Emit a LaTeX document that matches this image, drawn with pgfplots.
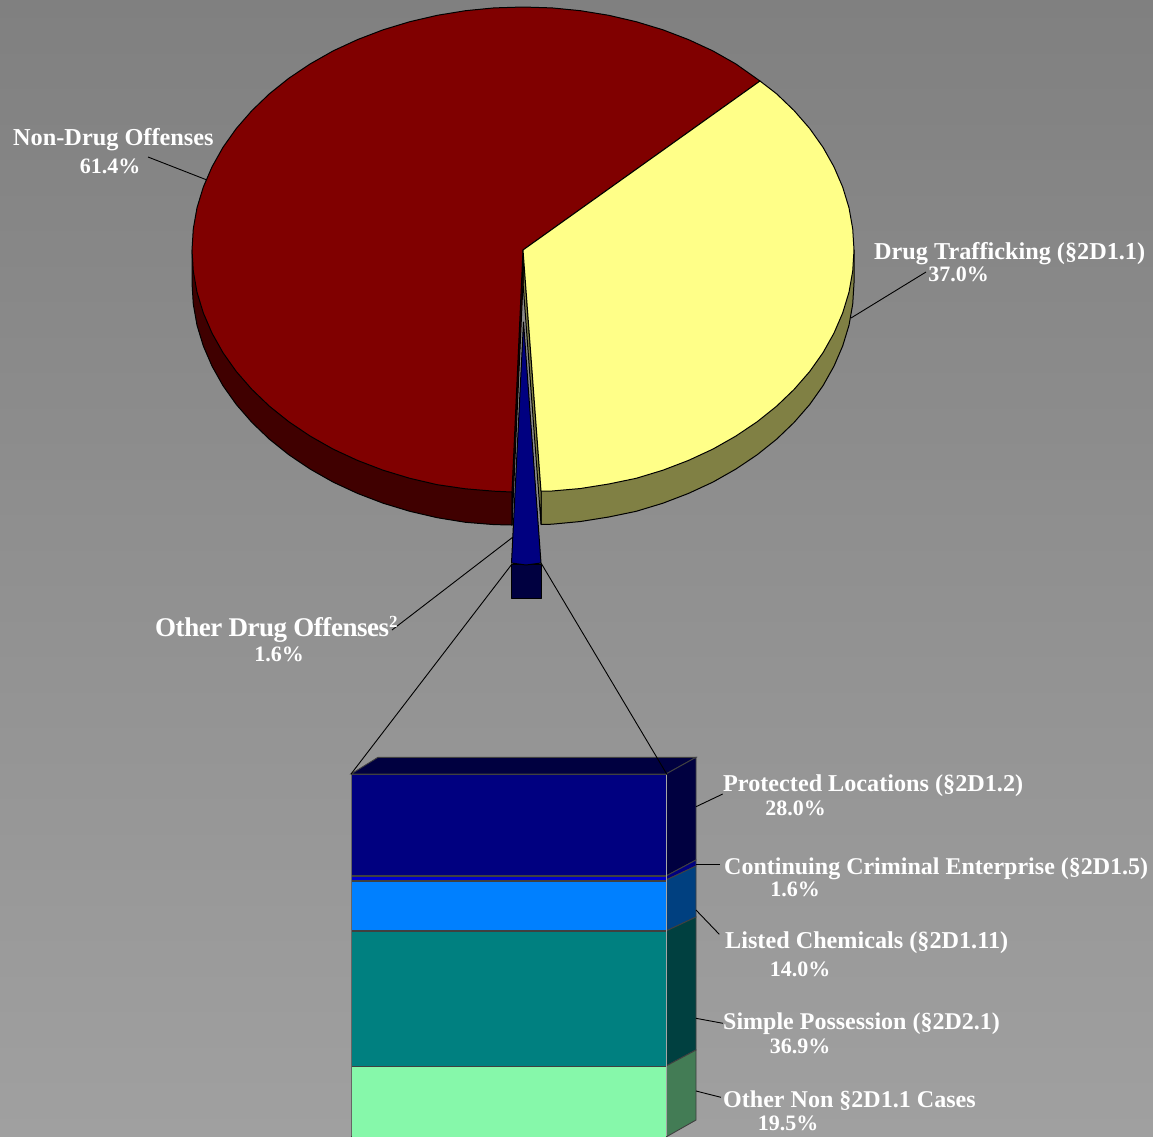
\documentclass[border=0pt]{standalone}
\usepackage{pgfplots}
\pgfplotsset{compat=1.18}
\usepackage{fontspec}
\setmainfont{Liberation Serif}
\definecolor{bgtop}{RGB}{128,128,128}
\definecolor{bgbot}{RGB}{160,160,160}
\definecolor{cred}{RGB}{128,0,0}
\definecolor{credw}{RGB}{64,0,0}
\definecolor{cyel}{RGB}{255,255,136}
\definecolor{cyelw}{RGB}{128,128,68}
\definecolor{cnavy}{RGB}{0,0,128}
\definecolor{cnavyw}{RGB}{0,0,64}
\definecolor{csliv}{RGB}{0,0,204}
\definecolor{cblue}{RGB}{0,128,255}
\definecolor{cbluew}{RGB}{0,64,128}
\definecolor{cteal}{RGB}{0,128,128}
\definecolor{ctealw}{RGB}{0,64,64}
\definecolor{cmint}{RGB}{134,248,170}
\definecolor{cmintw}{RGB}{67,124,85}
\pgfplotsset{
  pc/.style={draw=black,line width=1pt,line join=round,fill=#1,forget plot},
  bc/.style={draw=black!75,line width=0.9pt,line join=miter,fill=#1,forget plot},
  ld/.style={draw=black,line width=0.9pt,forget plot},
}
\newcommand{\lab}[4]{\node[anchor=base #1,text=white,inner sep=0pt,font=\fontsize{#4}{#4}\selectfont\bfseries] at (axis cs:#2) {#3};}
\begin{document}
\begin{tikzpicture}
\begin{axis}[
  scale only axis,width=1153pt,height=1136pt,
  xmin=0,xmax=1153,ymin=0,ymax=1136,y dir=reverse,
  xtick=\empty,ytick=\empty,axis line style={draw=none},no markers]
% background
\addplot[draw=none,shade,top color=bgtop,bottom color=bgbot,forget plot] coordinates {(0,0)(1153,0)(1153,1136)(0,1136)} -- cycle;
% leaders behind
\addplot[ld] coordinates {(148,157)(207,180)};
\addplot[ld] coordinates {(926,272)(851,318)};
\addplot[ld] coordinates {(392,630)(513,537)};
% pie walls
\addplot[pc=credw] coordinates {(192,250)(192,283)(193.3,304.2)(197,325.2)(203.3,345.9)(212,366.1)(223,385.7)(236.3,404.5)(251.9,422.4)(269.4,439.2)(288.9,454.8)(310.2,469.1)(333.1,482.1)(357.5,493.4)(383.1,503.2)(409.8,511.3)(437.3,517.7)(465.5,522.3)(494.1,524.6)(512,525)(512,492)} -- cycle;
\addplot[pc=cyelw] coordinates {(541,491)(541,524.5)(551.9,524.2)(580.5,521.5)(608.7,517)(636.2,511.3)(662.9,503.2)(688.5,493.4)(712.9,482.1)(735.8,469.1)(757.1,454.8)(776.6,439.2)(794.1,422.4)(809.7,404.5)(823,385.7)(834,366.1)(842.7,345.9)(849,325.2)(852.7,304.2)(854,283)(854,250)} -- cycle;
% inner walls
\addplot[pc=cyelw] coordinates {(523,250)(541,491)(541,524)(523,283)} -- cycle;
\addplot[pc=credw] coordinates {(523,250)(512,492)(512,525)(523,283)} -- cycle;
% red top
\addplot[pc=cred] coordinates {(523,250)(760,81)(735.8,63.9)(712.9,50.9)(688.5,39.6)(662.9,29.8)(636.2,21.7)(608.7,15.3)(580.5,10.7)(551.9,7.9)(523,7)(494.1,7.9)(465.5,10.7)(437.3,15.3)(409.8,21.7)(383.1,29.8)(357.5,39.6)(333.1,50.9)(310.2,63.9)(288.9,78.2)(269.4,93.8)(251.9,110.6)(236.3,128.5)(223,147.3)(212,166.9)(203.3,187.1)(197,207.8)(193.3,228.8)(192,250)(193.3,271.2)(197,292.2)(203.3,312.9)(212,333.1)(223,352.7)(236.3,371.5)(251.9,389.4)(269.4,406.2)(288.9,421.8)(310.2,436.1)(333.1,449.1)(357.5,460.4)(383.1,470.2)(409.8,478.3)(437.3,484.7)(465.5,488.8)(494.1,491.2)(512,492)} -- cycle;
% yellow top
\addplot[pc=cyel] coordinates {(523,250)(760,81)(776.6,93.8)(794.1,110.6)(809.7,128.5)(823,147.3)(834,166.9)(842.7,187.1)(849,207.8)(852.7,228.8)(854,250)(852.7,271.2)(849,292.2)(842.7,312.9)(834,333.1)(823,352.7)(809.7,371.5)(794.1,389.4)(776.6,406.2)(757.1,421.8)(735.8,436.1)(712.9,449.1)(688.5,460.4)(662.9,470.2)(636.2,478.3)(608.7,484)(580.5,488.5)(551.9,491)(541,491)} -- cycle;
% exploded wedge
\addplot[pc=cnavyw] coordinates {(511.5,564)(541,564)(541,598)(511.5,598)} -- cycle;
\addplot[pc=cnavy] coordinates {(523.5,322)(541,563)(526,565)(511.5,563)} -- cycle;
% bar sides and top
\addplot[bc=cnavyw] coordinates {(351,774)(378,757.3)(696,757.3)(666,774)} -- cycle;
\addplot[bc=cnavyw] coordinates {(666,774)(696,757.3)(696,860)(666,876)} -- cycle;
\addplot[bc=cnavy] coordinates {(666,876)(696,860)(696,866)(666,880)} -- cycle;
\addplot[bc=cbluew] coordinates {(666,880)(696,866)(696,917)(666,931)} -- cycle;
\addplot[bc=ctealw] coordinates {(666,931)(696,917)(696,1050)(666,1066)} -- cycle;
\addplot[bc=cmintw] coordinates {(666,1066)(696,1050)(696,1120)(666,1137)} -- cycle;
% bar front
\addplot[bc=cnavy] coordinates {(351,774)(666,774)(666,875)(351,875)} -- cycle;
\addplot[bc=csliv] coordinates {(351,876)(666,876)(666,880)(351,880)} -- cycle;
\addplot[bc=cblue] coordinates {(351,881)(666,881)(666,930)(351,930)} -- cycle;
\addplot[bc=cteal] coordinates {(351,931)(666,931)(666,1066)(351,1066)} -- cycle;
\addplot[bc=cmint] coordinates {(351,1066)(666,1066)(666,1140)(351,1140)} -- cycle;
\addplot[draw=black!35,line width=0.9pt,forget plot] coordinates {(666.5,775)(666.5,1136)};
\addplot[draw=black!60,line width=0.9pt,forget plot] coordinates {(351,775)(351,1136)};
% leaders front
\addplot[ld] coordinates {(512,564)(351,774)};
\addplot[ld] coordinates {(541,563)(666.7,774)};
\addplot[ld] coordinates {(696,806.7)(722.7,794)};
\addplot[ld] coordinates {(696,864)(720,864)};
\addplot[ld] coordinates {(696,910)(719.3,934.3)};
\addplot[ld] coordinates {(696,1018.3)(723,1023.3)};
\addplot[ld] coordinates {(696,1091)(721,1097.3)};
% labels
\lab{west}{13,145}{Non-Drug Offenses}{24.3}
\lab{}{110,173}{61.4\%}{22}
\lab{west}{874,259}{Drug Trafficking (§2D1.1)}{24.25}
\lab{}{958.5,281}{37.0\%}{22}
\lab{west}{155,636}{\addfontfeature{LetterSpace=-1.75}Other Drug Offenses\raisebox{9pt}{\fontsize{17}{17}\selectfont 2}}{27}
\lab{}{279,661}{1.6\%}{22}
\lab{west}{723,791}{Protected Locations (§2D1.2)}{24.2}
\lab{}{795.5,815}{28.0\%}{22}
\lab{west}{724,874}{Continuing Criminal Enterprise (§2D1.5)}{24}
\lab{}{795,896}{1.6\%}{22}
\lab{west}{725,948}{Listed Chemicals (§2D1.11)}{24.2}
\lab{}{800,976}{14.0\%}{22}
\lab{west}{723,1029}{Simple Possession (§2D2.1)}{24}
\lab{}{800,1053}{36.9\%}{22}
\lab{west}{723,1107}{Other Non §2D1.1 Cases}{24.05}
\lab{}{788,1130}{19.5\%}{22}
\end{axis}
\end{tikzpicture}
\end{document}
